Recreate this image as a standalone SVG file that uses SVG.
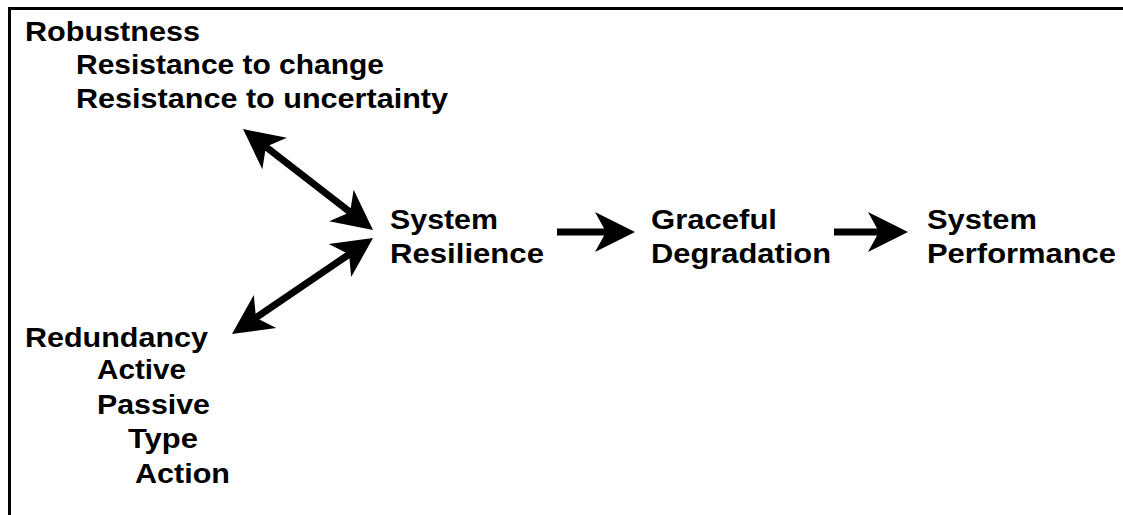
<svg xmlns="http://www.w3.org/2000/svg" width="1123" height="515" viewBox="0 0 1123 515">
<defs>
<style>
text{font-family:"Liberation Sans",Arial,sans-serif;font-weight:bold;font-size:28.5px;fill:#000;}
.frame{stroke:#000;stroke-width:3;fill:none;}
.conn{stroke:#000;stroke-width:7;fill:none;}
</style>
<marker id="head" viewBox="-42 -21 44 42" markerWidth="44" markerHeight="42" refX="-12" refY="0" markerUnits="userSpaceOnUse" orient="auto-start-reverse">
<path d="M0,0 L-40,-20 L-29,0 L-40,20 Z" fill="#000"/>
</marker>
</defs>
<rect width="1123" height="515" fill="#fff"/>
<g id="frame">
<path class="frame" d="M9.5,515 V8.5 H1123"/>
</g>
<g id="robustness">
<text x="25" y="41" textLength="175" lengthAdjust="spacingAndGlyphs">Robustness</text>
<text x="76" y="74" textLength="308" lengthAdjust="spacingAndGlyphs">Resistance to change</text>
<text x="76" y="108" textLength="372" lengthAdjust="spacingAndGlyphs">Resistance to uncertainty</text>
</g>
<g id="redundancy">
<text x="25" y="347" textLength="183" lengthAdjust="spacingAndGlyphs">Redundancy</text>
<text x="97" y="379" textLength="89" lengthAdjust="spacingAndGlyphs">Active</text>
<text x="97" y="414" textLength="113" lengthAdjust="spacingAndGlyphs">Passive</text>
<text x="128" y="448" textLength="70" lengthAdjust="spacingAndGlyphs">Type</text>
<text x="135" y="483" textLength="95" lengthAdjust="spacingAndGlyphs">Action</text>
</g>
<g id="system-resilience">
<text x="390" y="229" textLength="108" lengthAdjust="spacingAndGlyphs">System</text>
<text x="390" y="263" textLength="154" lengthAdjust="spacingAndGlyphs">Resilience</text>
</g>
<g id="graceful-degradation">
<text x="651" y="229" textLength="126" lengthAdjust="spacingAndGlyphs">Graceful</text>
<text x="651" y="263" textLength="180" lengthAdjust="spacingAndGlyphs">Degradation</text>
</g>
<g id="system-performance">
<text x="927" y="229" textLength="110" lengthAdjust="spacingAndGlyphs">System</text>
<text x="927" y="263" textLength="189" lengthAdjust="spacingAndGlyphs">Performance</text>
</g>
<g id="connectors">
<line class="conn" x1="252.5" y1="136.4" x2="363.5" y2="222.6" marker-start="url(#head)" marker-end="url(#head)"/>
<line class="conn" x1="363.1" y1="244.8" x2="241.9" y2="327.2" marker-start="url(#head)" marker-end="url(#head)"/>
<line class="conn" x1="557" y1="232" x2="623" y2="232" marker-end="url(#head)"/>
<line class="conn" x1="834" y1="232" x2="896" y2="232" marker-end="url(#head)"/>
</g>
</svg>
